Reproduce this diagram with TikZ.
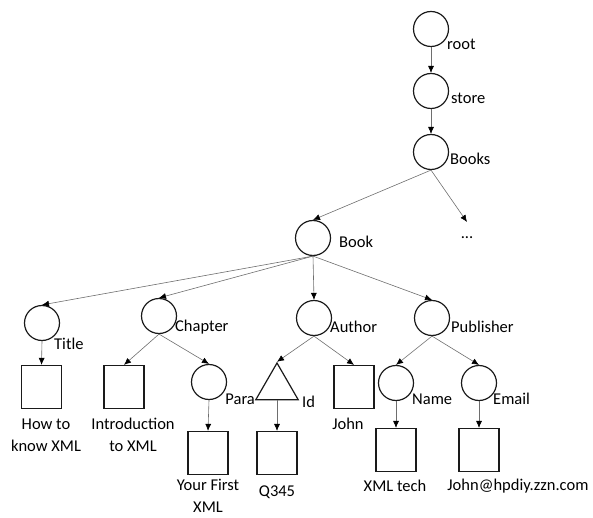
\documentclass[tikz,border=0pt]{standalone}
\usepackage{fontspec}
\setmainfont{Carlito}
\usetikzlibrary{arrows.meta,shapes.geometric}
\definecolor{ink}{HTML}{1A1A1A}
\definecolor{wire}{HTML}{6E6E6E}
\tikzset{
  elem/.style={circle,draw=ink,line width=1.2pt,minimum size=35pt,inner sep=0pt},
  leaf/.style={rectangle,draw=ink,line width=1.2pt,
               minimum width=40pt,minimum height=43pt,inner sep=0pt},
  attrib/.style={regular polygon,regular polygon sides=3,draw=ink,
                 line width=1.2pt,minimum size=49pt,inner sep=0pt},
  tag/.style={font=\fontsize{16.5}{22}\selectfont,inner sep=0pt,align=center},
  treearr/.style={-{Latex[length=7pt,width=6pt,color=black]},line width=0.6pt,color=wire}
}

\begin{document}
\begin{tikzpicture}[x=1pt,y=-1pt]
  \useasboundingbox (0,0) rectangle (593,518);
  % element nodes
  \node[elem] (root) at (431,29) {};
  \node[elem] (store) at (431,91) {};
  \node[elem] (books) at (431,152) {};
  \node[tag,anchor=north,text height=16pt] (more) at (467,222) {...};
  \node[elem] (book) at (313,238) {};
  \node[elem] (title) at (42,323) {};
  \node[elem] (chapter) at (159,316) {};
  \node[elem] (author) at (314,318) {};
  \node[elem] (publisher) at (432,318) {};
  \node[elem] (para) at (209,382) {};
  \node[attrib] (attr) at (277,387.5) {};
  \node[elem] (name) at (396,383) {};
  \node[elem] (email) at (479,383) {};
  % text leaves
  \node[leaf] (titleval) at (41.5,387) {};
  \node[leaf] (introval) at (124,387) {};
  \node[leaf] (paraval) at (208,453) {};
  \node[leaf] (idval) at (277,453) {};
  \node[leaf] (authval) at (354,387) {};
  \node[leaf] (nameval) at (396,450) {};
  \node[leaf] (emailval) at (479,450) {};
  % element names
  \node[tag,anchor=west] (rootlbl) at (447,44) {root};
  \node[tag,anchor=west] (storelbl) at (451,98) {store};
  \node[tag,anchor=west] (bookslbl) at (450,159) {Books};
  \node[tag,anchor=west] (booklbl) at (339,242) {Book};
  \node[tag,anchor=west] (titlelbl) at (54,344) {Title};
  \node[tag,anchor=west] (chapterlbl) at (175,327) {Chapter};
  \node[tag,anchor=west] (authorlbl) at (330,327) {Author};
  \node[tag,anchor=west] (publbl) at (451,327) {Publisher};
  \node[tag,anchor=east] (paralbl) at (255,399) {Para};
  \node[tag,anchor=west] (idlbl) at (302,402) {Id};
  \node[tag,anchor=west] (namelbl) at (412,399) {Name};
  \node[tag,anchor=west] (emaillbl) at (493,399) {Email};
  % leaf values
  \node[tag] (titletxt) at (46,435) {How to\\know XML};
  \node[tag] (introtxt) at (133,435) {Introduction\\to XML};
  \node[tag] (paratxt) at (208,496) {Your First\\XML};
  \node[tag] (idtxt) at (277,492) {Q345};
  \node[tag] (authtxt) at (348,424) {John};
  \node[tag] (nametxt) at (395,486) {XML tech};
  \node[tag] (emailtxt) at (518,486) {John@hpdiy.zzn.com};
  % edges
  \foreach \a/\b in {root/store,store/books,books/book,books/more,
                     book/title,book/chapter,book/author,book/publisher,
                     title/titleval,chapter/introval,chapter/para,para/paraval,
                     author/attr,author/authval,attr/idval,
                     publisher/name,publisher/email,name/nameval,email/emailval}
    \draw[treearr] (\a.south) -- (\b.north);
\end{tikzpicture}
\end{document}
